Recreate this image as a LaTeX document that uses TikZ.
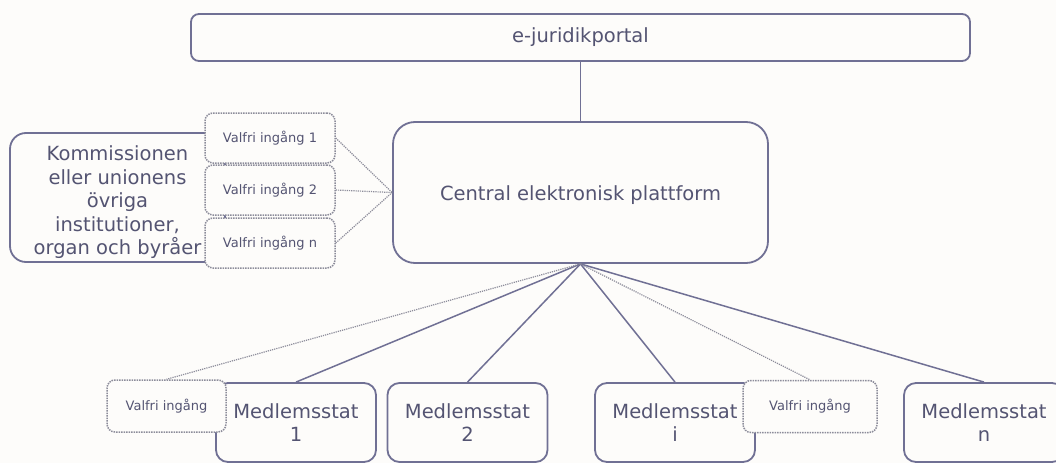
\documentclass[tikz,border=0pt]{standalone}
\usepackage{fontspec}
\setmainfont{DejaVu Sans}
\definecolor{ink}{RGB}{84,84,114}
\definecolor{edge}{RGB}{112,112,148}
\definecolor{dots}{RGB}{140,140,154}
\definecolor{paper}{RGB}{253,252,250}
\begin{document}
\begin{tikzpicture}[x=1pt, y=-1pt, line width=1.5pt,
        dims/.style 2 args={minimum width=#1pt, minimum height=#2pt},
        box/.style={draw=edge, line width=1.8pt, fill=paper, rounded corners=#1, text=ink,
                inner sep=0pt, align=center, font=\fontsize{19.5}{23.5}\selectfont},
        box/.default=12pt,
        entry/.style={draw=dots, densely dotted, fill=paper, rounded corners=8pt, text=ink,
                inner sep=0pt, font=\fontsize{13}{15}\selectfont},
        link/.style={draw=edge},
        optlink/.style={draw=dots, densely dotted, line width=1.2pt}]
                \useasboundingbox (0, 0) rectangle (1056, 463);
                \fill[paper] (0, 0) rectangle (1056, 463);
                \node[box=8pt, dims={779}{47}] (portal) at (580.5, 37.5) {e-juridikportal};
                \node[box=22pt, dims={375}{141}] (platform) at (580.5, 192.5) {\rule{0pt}{20pt}Central elektronisk plattform};
                \node[box=16pt, dims={215}{129}] (union) at (117.5, 197.5)
                        {\rule{0pt}{25pt}Kommissionen\\eller unionens\\övriga\\institutioner,\\organ och byråer};
                \foreach \n/\y in {1/138, 2/190, n/243} {
                        \node[entry, dims={130}{50}] (in\n) at (270, \y) {Valfri ingång \n};
                        \draw[optlink] (in\n.east) -- (platform.west);
                }
                \node[box, dims={160}{79}] (ms1) at (296, 422.5) {Medlemsstat\\1};
                \node[box, dims={160}{79}] (ms2) at (467.5, 422.5) {Medlemsstat\\2};
                \node[box, dims={160}{79}] (msi) at (675, 422.5) {Medlemsstat\\i};
                \node[box, dims={160}{79}] (msn) at (984, 422.5) {Medlemsstat\\n};
                \node[entry, dims={119}{52}] (opt1) at (166.5, 406) {Valfri ingång};
                \node[entry, dims={134}{52}] (opti) at (810, 406.5) {Valfri ingång};
                \draw[link] (portal.south) -- (platform.north);
                \foreach \m in {1, 2, i, n} {
                        \draw[link] (platform.south) -- (ms\m.north);
                }
                \foreach \o in {1, i} {
                        \draw[optlink] (platform.south) -- (opt\o.north);
                }
        \end{tikzpicture}
\end{document}
